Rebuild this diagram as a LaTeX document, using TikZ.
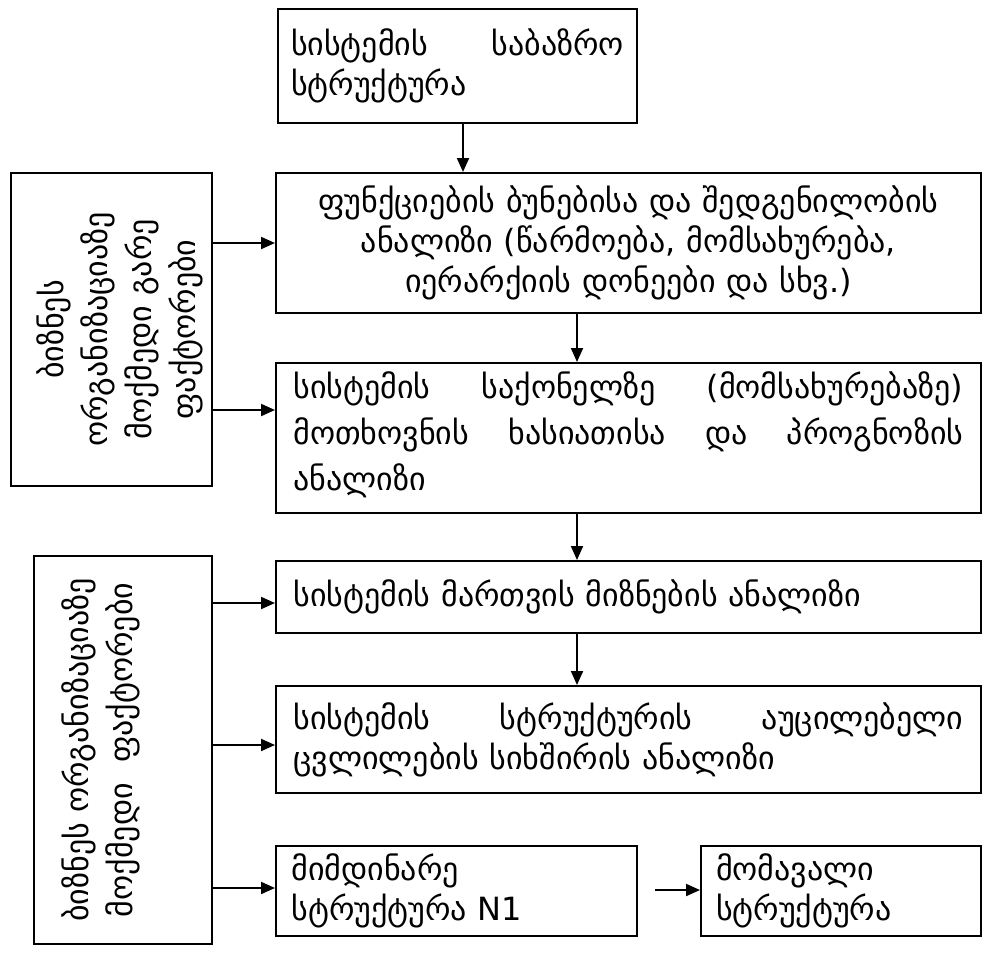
\documentclass[tikz,border=0pt]{standalone}
\usepackage{fontspec}
\setmainfont{DejaVu Sans}
\usetikzlibrary{arrows.meta}
\tikzset{
  x=1pt, y=-1pt,
  box/.style={draw=black, line width=2pt, anchor=north west, inner sep=0pt},
  txt/.style={inner sep=0pt, anchor=center, font=\fontsize{32}{40}\selectfont},
  arr/.style={line width=2pt, -{Triangle[length=14pt,width=12pt]}},
}
\newcommand{\jline}[1]{\noindent\hbox to \hsize{#1}}
\begin{document}
\begin{tikzpicture}
\useasboundingbox (0,0) rectangle (1001,962);
% boxes
\node[box, minimum width=359pt, minimum height=114pt] (b1) at (277,8) {};
\node[box, minimum width=705pt, minimum height=140pt] (b2) at (275,172) {};
\node[box, minimum width=705pt, minimum height=150pt] (b3) at (275,362) {};
\node[box, minimum width=705pt, minimum height=72pt] (b4) at (275,560) {};
\node[box, minimum width=705pt, minimum height=107pt] (b5) at (275,685) {};
\node[box, minimum width=361pt, minimum height=90pt] (b6) at (275,845) {};
\node[box, minimum width=280pt, minimum height=90pt] (b7) at (700,845) {};
\node[box, minimum width=201pt, minimum height=313pt] (l1) at (10,172) {};
\node[box, minimum width=178pt, minimum height=388pt] (l2) at (33,555) {};
% texts
\node[txt, text width=333pt, align=left] (t1) at (b1.center)
  {\jline{სისტემის\hfill საბაზრო}\\სტრუქტურა};
\node[txt, text width=690pt, align=center] (t2) at (b2.center)
  {ფუნქციების ბუნებისა და შედგენილობის\\ანალიზი (წარმოება, მომსახურება,\\იერარქიის დონეები და სხვ.)};
\node[txt, text width=670pt, align=left, font=\fontsize{32}{46}\selectfont] (t3) at ([yshift=3pt]b3.center)
  {\jline{სისტემის\hfill საქონელზე\hfill (მომსახურებაზე)}\\\jline{მოთხოვნის\hfill ხასიათისა\hfill და\hfill პროგნოზის}\\ანალიზი};
\node[txt, text width=670pt, align=left] (t4) at (b4.center)
  {სისტემის მართვის მიზნების ანალიზი};
\node[txt, text width=670pt, align=left] (t5) at (b5.center)
  {\jline{სისტემის\hfill სტრუქტურის\hfill აუცილებელი}\\ცვლილების სიხშირის ანალიზი};
\node[txt, text width=330pt, align=left] (t6) at (b6.center)
  {მიმდინარე\\სტრუქტურა N1};
\node[txt, text width=250pt, align=left] (t7) at (b7.center)
  {მომავალი\\სტრუქტურა};
\node[txt, align=center, rotate=90, font=\fontsize{32}{44}\selectfont] (tl1) at ([xshift=8pt]l1.center)
  {ბიზნეს\\ორგანიზაციაზე\\მოქმედი გარე\\ფაქტორები};
\node[txt, align=center, rotate=90, font=\fontsize{32}{44}\selectfont] (tl2) at ([xshift=-22pt]l2.center)
  {ბიზნეს ორგანიზაციაზე\\მოქმედი \ ფაქტორები};
% arrows
\draw[arr] (b1.south -| 463,0) -- (b2.north -| 463,0);
\draw[arr] (b2.south -| 577,0) -- (b3.north -| 577,0);
\draw[arr] (b3.south -| 577,0) -- (b4.north -| 577,0);
\draw[arr] (b4.south -| 577,0) -- (b5.north -| 577,0);
\draw[arr] (l1.east |- 0,243) -- (b2.west |- 0,243);
\draw[arr] (l1.east |- 0,410) -- (b3.west |- 0,410);
\draw[arr] (l2.east |- 0,603) -- (b4.west |- 0,603);
\draw[arr] (l2.east |- 0,745) -- (b5.west |- 0,745);
\draw[arr] (l2.east |- 0,888) -- (b6.west |- 0,888);
\coordinate (s6) at (655,890);
\draw[arr] (s6) -- (b7.west |- s6);
\end{tikzpicture}
\end{document}
